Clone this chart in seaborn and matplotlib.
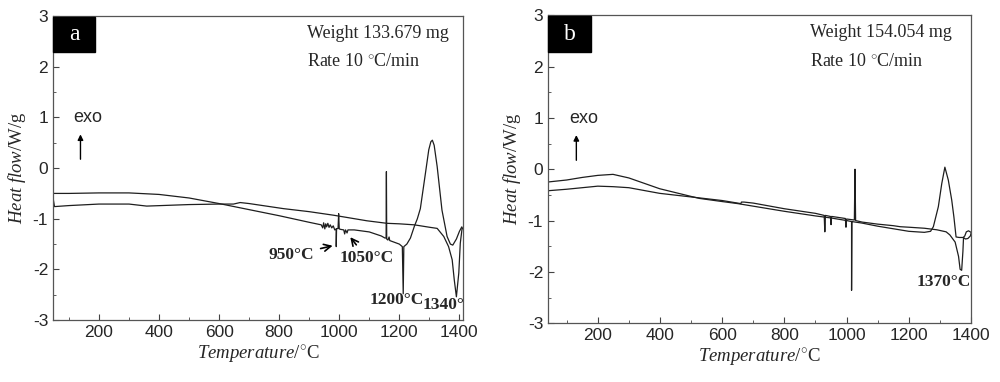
import matplotlib
matplotlib.use("Agg")
import matplotlib.pyplot as plt
from matplotlib.patches import Rectangle
from matplotlib.ticker import MultipleLocator
import numpy as np
import pandas as pd
import seaborn as sns

# Panel a: heating curve (exo peak) and second curve (endo dip), W/g vs degC
a_heat_t = [48, 100, 200, 300, 400, 500, 600, 700, 800, 900, 940, 945, 948, 952, 955,
            958, 962, 966, 970, 975, 980, 985, 990, 990, 991, 996, 998, 1000, 1005,
            1015, 1018, 1021, 1026, 1029, 1050, 1100, 1140, 1152, 1156, 1157, 1158,
            1162, 1166, 1168, 1200, 1210, 1213, 1215, 1225, 1237, 1250, 1260, 1270,
            1287, 1298, 1305, 1310, 1316, 1326, 1342, 1359, 1370, 1378, 1390, 1400,
            1408, 1411]
a_heat_q = [-0.50, -0.50, -0.49, -0.49, -0.52, -0.59, -0.70, -0.82, -0.94, -1.07, -1.12,
            -1.18, -1.08, -1.20, -1.10, -1.16, -1.09, -1.17, -1.12, -1.18, -1.14, -1.22,
            -1.20, -1.55, -1.20, -1.19, -0.90, -1.20, -1.21, -1.22, -1.30, -1.22, -1.28,
            -1.22, -1.22, -1.26, -1.34, -1.38, -1.38, -0.07, -1.40, -1.42, -1.36, -1.43,
            -1.50, -1.55, -2.48, -1.55, -1.50, -1.38, -1.15, -1.00, -0.80, -0.10, 0.36,
            0.52, 0.55, 0.45, 0.03, -0.83, -1.35, -1.50, -1.52, -1.40, -1.25, -1.16, -1.20]
a_cool_t = [48, 52, 100, 200, 300, 359, 500, 600, 648, 670, 700, 814, 900, 981, 1092,
            1159, 1200, 1250, 1303, 1326, 1348, 1364, 1376, 1383, 1390, 1398, 1403, 1409]
a_cool_q = [-0.62, -0.76, -0.74, -0.71, -0.71, -0.75, -0.72, -0.71, -0.71, -0.68, -0.70,
            -0.80, -0.86, -0.93, -1.04, -1.09, -1.10, -1.12, -1.17, -1.19, -1.35, -1.55,
            -1.81, -2.21, -2.54, -2.07, -1.48, -1.19]

# Panel b
b_heat_t = [38, 100, 150, 200, 249, 300, 399, 500, 528, 600, 650, 700, 800, 900, 950,
            1000, 1016, 1016, 1017, 1050, 1100, 1150, 1200, 1250, 1270, 1279, 1295,
            1306, 1316, 1327, 1338, 1345, 1352, 1362, 1375, 1380, 1385, 1392, 1400]
b_heat_q = [-0.25, -0.21, -0.16, -0.12, -0.10, -0.17, -0.38, -0.53, -0.57, -0.63, -0.67,
            -0.72, -0.82, -0.91, -0.95, -1.00, -1.02, -2.36, -1.02, -1.05, -1.11, -1.16,
            -1.21, -1.23, -1.21, -1.12, -0.73, -0.28, 0.04, -0.21, -0.60, -0.93, -1.32,
            -1.33, -1.33, -1.30, -1.22, -1.20, -1.23]
b_cool_t = [38, 100, 200, 249, 300, 399, 500, 600, 660, 662, 670, 700, 800, 900, 928,
            930, 932, 948, 950, 952, 996, 998, 1000, 1025, 1027, 1029, 1050, 1100, 1150,
            1172, 1200, 1250, 1290, 1320, 1332, 1349, 1360, 1365, 1370, 1374, 1376, 1382,
            1390, 1398, 1400]
b_cool_q = [-0.42, -0.39, -0.33, -0.34, -0.36, -0.47, -0.54, -0.61, -0.67, -0.64, -0.64,
            -0.66, -0.77, -0.86, -0.90, -1.22, -0.90, -0.92, -1.08, -0.92, -0.96, -1.13,
            -0.97, -0.99, 0.00, -1.00, -1.03, -1.07, -1.10, -1.12, -1.13, -1.15, -1.18,
            -1.22, -1.28, -1.42, -1.70, -1.95, -1.97, -1.60, -1.33, -1.36, -1.35, -1.30,
            -1.25]

yticks = [-3, -2, -1, 0, 1, 2, 3]
xticks = [200, 400, 600, 800, 1000, 1200, 1400]

sns.set_style("ticks")
plt.rcParams["font.family"] = ["Liberation Sans", "DejaVu Sans"]
plt.rcParams["axes.unicode_minus"] = False
plt.rcParams["mathtext.fontset"] = "custom"
plt.rcParams["mathtext.it"] = "Liberation Serif:italic"
plt.rcParams["mathtext.rm"] = "Liberation Serif"

SERIF = ["Liberation Serif", "DejaVu Serif"]
LINE = "#1e1e1e"

fig = plt.figure(figsize=(10, 3.82), dpi=100)
ax_a = fig.add_axes([0.053, 0.162, 0.410, 0.796])
ax_b = fig.add_axes([0.548, 0.154, 0.423, 0.806])


def draw_panel(ax, curves, xlim, letter, weight):
    for t, q in curves:
        df = pd.DataFrame({"T": t, "Q": q})
        sns.lineplot(data=df, x="T", y="Q", sort=False, estimator=None,
                     color=LINE, lw=0.9, ax=ax)
    ax.set_xlim(*xlim)
    ax.set_ylim(-3, 3)
    ax.set_xticks(xticks)
    ax.set_yticks(yticks)
    ax.xaxis.set_minor_locator(MultipleLocator(100))
    ax.yaxis.set_minor_locator(MultipleLocator(0.5))
    ax.tick_params(which="both", direction="in", labelsize=12.5, color="#444")
    ax.tick_params(which="major", length=4)
    ax.tick_params(which="minor", length=2)
    for sp in ax.spines.values():
        sp.set_visible(True)
        sp.set_color("#555")
        sp.set_linewidth(0.9)
    ax.set_xlabel(r"$\it{Temperature}$/$^{\circ}$C", fontsize=13.5, family=SERIF, labelpad=3)
    ax.set_ylabel(r"$\it{Heat\ flow}$/W/g", fontsize=13.5, family=SERIF, labelpad=3)

    # letter box
    ax.add_patch(Rectangle((0, 0.882), 0.102, 0.115, transform=ax.transAxes,
                           color="black", zorder=5, clip_on=False))
    ax.text(0.051, 0.938, letter, transform=ax.transAxes, color="white",
            fontsize=17, family=SERIF, ha="center", va="center", zorder=6)
    ax.text(0.62, 0.944, f"Weight {weight} mg", transform=ax.transAxes,
            fontsize=13, family=SERIF, va="center")
    ax.text(0.62, 0.849, "Rate 10 $^{\\circ}$C/min", transform=ax.transAxes,
            fontsize=13, family=SERIF, va="center")
    ax.text(0.085, 0.665, "exo", transform=ax.transAxes, fontsize=13,
            va="center", ha="center")
    ax.annotate("", xy=(0.067, 0.62), xytext=(0.067, 0.52),
                xycoords="axes fraction", textcoords="axes fraction",
                arrowprops=dict(arrowstyle="-|>", color="black", lw=1.0,
                                mutation_scale=8))


draw_panel(ax_a, [(a_heat_t, a_heat_q), (a_cool_t, a_cool_q)], (47, 1412), "a", "133.679")
draw_panel(ax_b, [(b_heat_t, b_heat_q), (b_cool_t, b_cool_q)], (40, 1400), "b", "154.054")

bold = dict(fontsize=12.5, family=SERIF, fontweight="bold")
arrow = dict(arrowstyle="->", color="black", lw=1.2)
ax_a.annotate("950°C", xy=(987, -1.52), xytext=(918, -1.72), ha="right", va="center",
              arrowprops=arrow, **bold)
ax_a.annotate("1050°C", xy=(1031, -1.32), xytext=(1092, -1.78), ha="center", va="center",
              arrowprops=arrow, **bold)
ax_a.text(1192, -2.6, "1200°C", ha="center", va="center", **bold)
ax_a.text(1278, -2.7, "1340°C", ha="left", va="center", clip_on=True, **bold)
ax_b.text(1313, -2.2, "1370°C", ha="center", va="center", **bold)

fig.savefig("out.png", dpi=100, facecolor="white")
